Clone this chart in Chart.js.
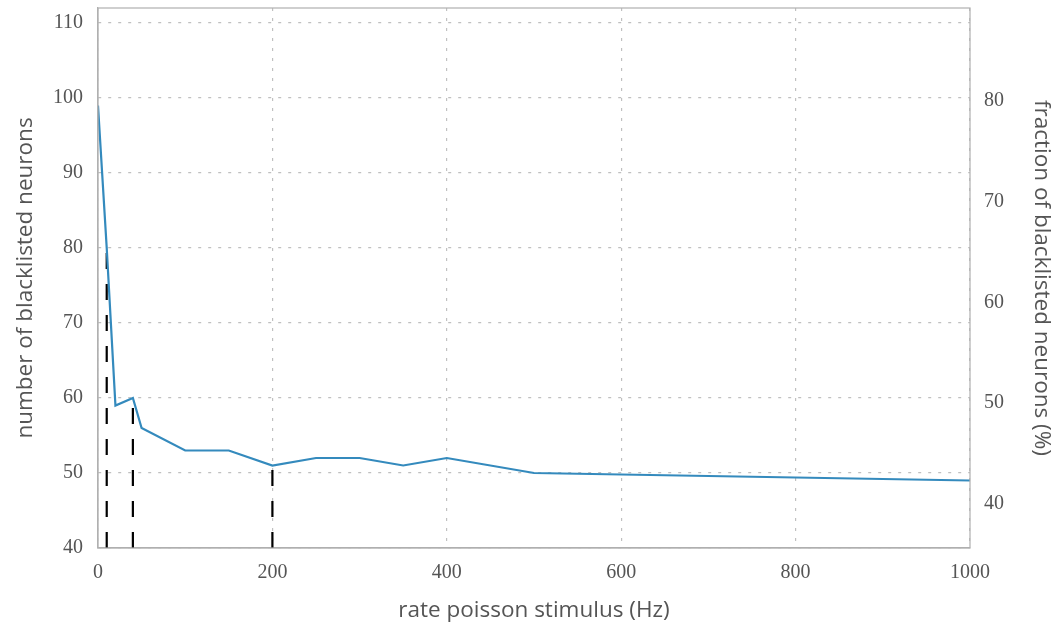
<!DOCTYPE html>
<html>
<head>
<meta charset="utf-8">
<script src="https://cdn.jsdelivr.net/npm/chart.js@4/dist/chart.umd.min.js"></script>
<style>
  html, body { margin: 0; padding: 0; background: #fff; }
  #wrap { width: 1059px; height: 628px; }
</style>
</head>
<body>
<div id="wrap"><canvas id="rate_chart"></canvas></div>
<script>
    // stimulus rates (Hz) and blacklisted neuron counts
    let rates = [0, 10, 20, 40, 50, 100, 150, 200, 250, 300, 350, 400, 500, 1000]
    let blacklisted = [99, 80, 59, 60, 56, 53, 53, 51, 52, 52, 51, 52, 50, 49]
    // rates marked with dashed vertical lines
    let markedRates = [10, 40, 200]
    let xTicks = [0, 200, 400, 600, 800, 1000]
    let leftTicks = [40, 50, 60, 70, 80, 90, 100, 110]
    let rightTicks = [40, 50, 60, 70, 80]

    let points = rates.map((r, i) => ({x: r, y: blacklisted[i]}))
    let markerSets = markedRates.map(r => {
        let v = blacklisted[rates.indexOf(r)]
        return {
            data: [{x: r, y: 40}, {x: r, y: v}],
            showLine: true,
            borderColor: '#000',
            borderWidth: 2.2,
            borderDash: [16, 15],
            pointRadius: 0,
            yAxisID: 'y'
        }
    })

    // outline round the plot area
    let frame = {
        id: 'frame',
        afterDraw(chart) {
            let a = chart.chartArea, c = chart.ctx
            c.save()
            c.strokeStyle = '#b0b0b0'
            c.lineWidth = 1.2
            c.strokeRect(a.left, a.top, a.right - a.left, a.bottom - a.top)
            c.restore()
        }
    }

    let tickFont = {family: "'Liberation Serif', serif", size: 20}
    let titleFont = {family: "'Open Sans', sans-serif", size: 22.5}
    let dotted = {dash: [3, 7], color: '#b0b0b0', width: 1.2}
    let plain = v => String(v)
    let noPad = s => { s.paddingTop = 0; s.paddingBottom = 0 }

    let ctx = document.getElementById('rate_chart').getContext('2d')
    let myChart = new Chart(ctx, {
        type: 'scatter',
        data: {
            datasets: [{
                data: points,
                showLine: true,
                borderColor: '#348ABD',
                borderWidth: 2.2,
                pointRadius: 0,
                tension: 0,
                yAxisID: 'y'
            }].concat(markerSets)
        },
        options: {
            responsive: true,
            maintainAspectRatio: false,
            animation: false,
            layout: {padding: {top: 8, left: 0, right: 0, bottom: 0}},
            plugins: {legend: {display: false}, tooltip: {enabled: false}},
            scales: {
                x: {
                    type: 'linear', min: 0, max: 1000,
                    afterBuildTicks: s => { s.ticks = xTicks.map(v => ({value: v})) },
                    grid: {drawTicks: false, color: '#c0c0c0', lineWidth: 1.2},
                    border: dotted,
                    ticks: {font: tickFont, color: '#555', padding: 13, maxRotation: 0, callback: plain},
                    title: {display: true, text: 'rate poisson stimulus (Hz)', font: titleFont, color: '#555', padding: {top: 2}},
                    afterFit: s => { s.height = 80; s.paddingLeft = 0; s.paddingRight = 0 }
                },
                y: {
                    position: 'left', min: 40, max: 112,
                    afterBuildTicks: s => { s.ticks = leftTicks.map(v => ({value: v})) },
                    grid: {drawTicks: false, color: '#c0c0c0', lineWidth: 1.2},
                    border: dotted,
                    ticks: {font: tickFont, color: '#555', padding: 15, callback: plain},
                    title: {display: true, text: 'number of blacklisted neurons', font: titleFont, color: '#555', padding: {top: 12, bottom: 0}},
                    afterFit: s => { s.width = 98; noPad(s) }
                },
                y2: {
                    position: 'right', min: 35.63, max: 89.23,
                    afterBuildTicks: s => { s.ticks = rightTicks.map(v => ({value: v})) },
                    grid: {display: false, drawTicks: false},
                    border: {display: false},
                    ticks: {font: tickFont, color: '#555', padding: 14, callback: plain},
                    title: {display: true, text: 'fraction of blacklisted neurons (%)', font: titleFont, color: '#555', padding: {top: 4, bottom: 4}},
                    afterFit: s => { s.width = 89; noPad(s) }
                }
            }
        },
        plugins: [frame]
    })
</script>
</body>
</html>
